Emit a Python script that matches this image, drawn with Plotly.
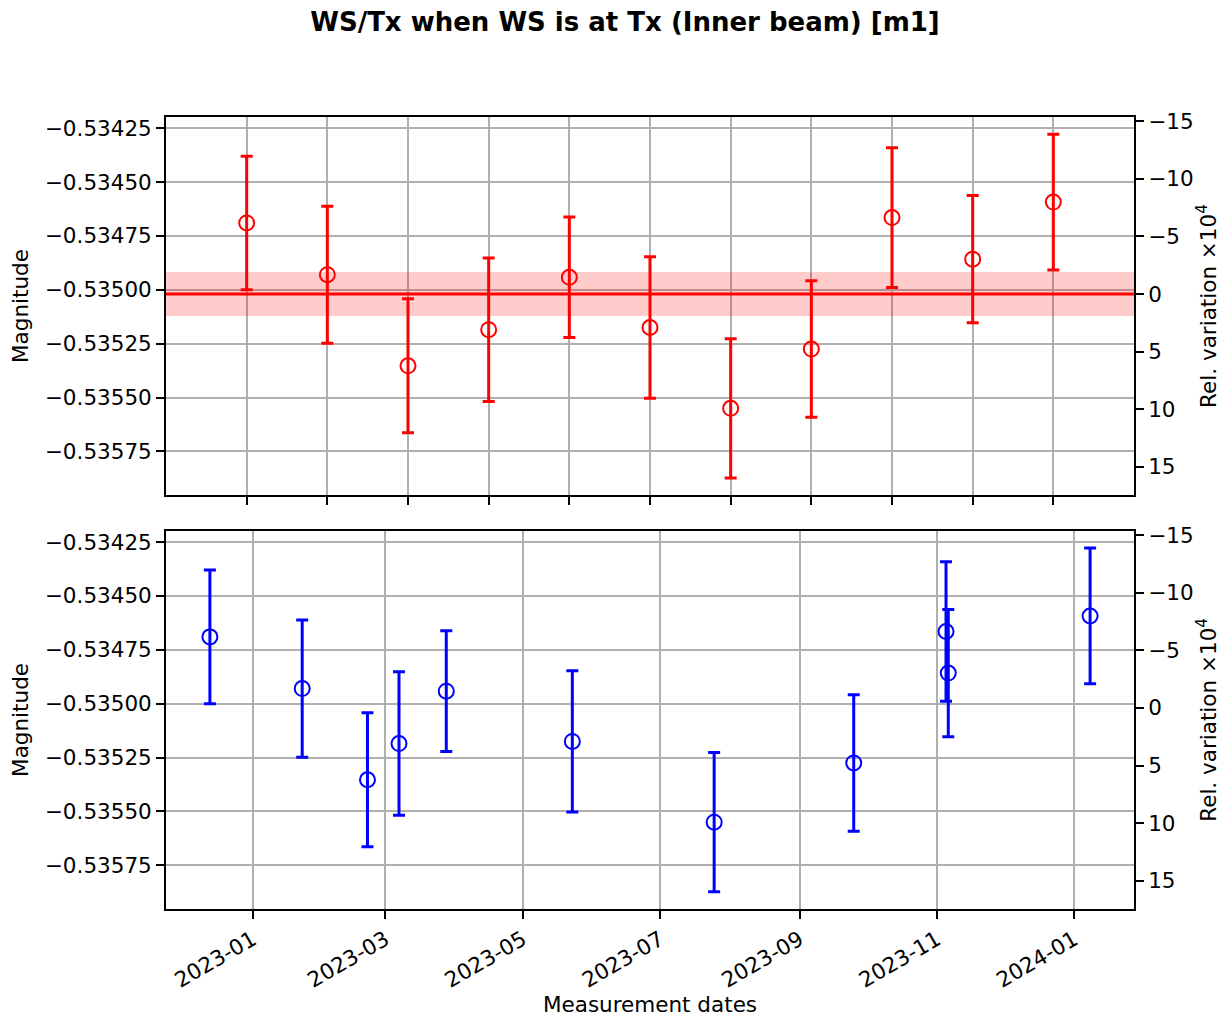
import plotly.graph_objects as go
import pandas as pd

# ---- data ----
meas_index = list(range(11))
meas_dates = ["2022-12-13", "2023-01-23", "2023-02-21", "2023-03-07", "2023-03-28",
              "2023-05-23", "2023-07-25", "2023-09-25", "2023-11-05", "2023-11-06",
              "2024-01-08"]
magnitude = [-0.534690, -0.534930, -0.535353, -0.535185, -0.534942, -0.535175,
             -0.535550, -0.535275, -0.534665, -0.534858, -0.534593]
mag_err = [0.000310, 0.000318, 0.000311, 0.000333, 0.000280, 0.000328,
           0.000323, 0.000317, 0.000324, 0.000295, 0.000315]
band_halfwidth = 0.000102
left_ticks = [-0.53425, -0.53450, -0.53475, -0.53500, -0.53525, -0.53550, -0.53575]
right_ticks = [-15, -10, -5, 0, 5, 10, 15]

mean_mag = sum(magnitude) / len(magnitude)
rel_var = [(m / mean_mag - 1) * 1e4 for m in magnitude]

lo = min(m - e for m, e in zip(magnitude, mag_err))
hi = max(m + e for m, e in zip(magnitude, mag_err))
pad = 0.05 * (hi - lo)
yr = [lo - pad, hi + pad]
rel_r = [(yr[0] / mean_mag - 1) * 1e4, (yr[1] / mean_mag - 1) * 1e4]

FONT = "DejaVu Sans"
TICK = 21.5
GRID = "#b0b0b0"

fig = go.Figure()

err_common = dict(type="data", visible=True, thickness=3, width=6)

# mean band and mean line on top panel (drawn as traces so they sit above the grid)
fig.add_trace(go.Scatter(
    x=[-1, 11, 11, -1, -1],
    y=[mean_mag - band_halfwidth, mean_mag - band_halfwidth,
       mean_mag + band_halfwidth, mean_mag + band_halfwidth, mean_mag - band_halfwidth],
    mode="lines", fill="toself", fillcolor="rgba(255,0,0,0.2)", line=dict(width=0),
    xaxis="x", yaxis="y", showlegend=False, hoverinfo="skip"))
fig.add_trace(go.Scatter(
    x=[-1, 11], y=[mean_mag, mean_mag], mode="lines",
    line=dict(color="#ff0000", width=3.2),
    xaxis="x", yaxis="y", showlegend=False, hoverinfo="skip"))

fig.add_trace(go.Scatter(
    x=meas_index, y=magnitude, mode="markers",
    marker=dict(symbol="circle-open", size=15, color="red", line=dict(width=2, color="red")),
    error_y=dict(array=mag_err, color="red", **err_common),
    xaxis="x", yaxis="y", showlegend=False))
fig.add_trace(go.Scatter(
    x=meas_index, y=rel_var, mode="markers", marker=dict(opacity=0),
    xaxis="x", yaxis="y2", showlegend=False, hoverinfo="skip"))

fig.add_trace(go.Scatter(
    x=pd.to_datetime(meas_dates), y=magnitude, mode="markers",
    marker=dict(symbol="circle-open", size=15, color="blue", line=dict(width=2, color="blue")),
    error_y=dict(array=mag_err, color="blue", **err_common),
    xaxis="x2", yaxis="y3", showlegend=False))
fig.add_trace(go.Scatter(
    x=pd.to_datetime(meas_dates), y=rel_var, mode="markers", marker=dict(opacity=0),
    xaxis="x2", yaxis="y4", showlegend=False, hoverinfo="skip"))

# page body adds an 8px offset; size the figure to fit the 1232x1024 window
W, H = 1224, 1016
L, T = 155, 109
PW, PH = 971, 796
R, B = W - L - PW, H - T - PH
top_dom = [(913 - 497) / PH, 1]
bot_dom = [0, (913 - 533) / PH]

axis_common = dict(showline=True, linecolor="black", linewidth=1.8, ticks="outside",
                   ticklen=8, tickwidth=1.7, tickcolor="black", showgrid=True,
                   gridcolor=GRID, gridwidth=1.5, zeroline=False,
                   tickfont=dict(family=FONT, size=TICK, color="black"))
axis_nogrid = {k: v for k, v in axis_common.items() if k != "showgrid"}

right_title = dict(text="Rel. variation ×10<sup>4</sup>", standoff=8,
                   font=dict(family=FONT, size=TICK))

fig.update_layout(
    width=W, height=H,
    margin=dict(l=L, r=R, t=T, b=B),
    plot_bgcolor="white", paper_bgcolor="white",
    font=dict(family=FONT, size=TICK, color="black"),
    title=dict(text="<b>WS/Tx when WS is at Tx (Inner beam) [m1]</b>",
               x=617 / W, xanchor="center", y=1 - 5 / H, yanchor="top", pad=dict(t=0),
               font=dict(family=FONT, size=26, color="black")),
    xaxis=dict(domain=[0, 1], anchor="y", range=[-1, 11], tickvals=meas_index,
               showticklabels=False, mirror=True, **axis_common),
    yaxis=dict(domain=top_dom, anchor="x", range=yr, tickvals=left_ticks,
               tickformat=".5f",
               title=dict(text="Magnitude", standoff=10, font=dict(family=FONT, size=TICK)),
               **axis_common),
    yaxis2=dict(overlaying="y", side="right", anchor="x", range=[rel_r[0], rel_r[1]],
                tickvals=right_ticks, showgrid=False, title=right_title, **axis_nogrid),
    xaxis2=dict(domain=[0, 1], anchor="y3", type="date",
                range=["2022-11-23 12:00", "2024-01-27 12:00"],
                tick0="2023-01-01", dtick="M2", tickformat="%Y-%m", tickangle=-30,
                mirror=True,
                title=dict(text="Measurement dates", standoff=4,
                           font=dict(family=FONT, size=TICK)),
                **axis_common),
    yaxis3=dict(domain=bot_dom, anchor="x2", range=yr, tickvals=left_ticks,
                tickformat=".5f",
                title=dict(text="Magnitude", standoff=10, font=dict(family=FONT, size=TICK)),
                **axis_common),
    yaxis4=dict(overlaying="y3", side="right", anchor="x2", range=[rel_r[0], rel_r[1]],
                tickvals=right_ticks, showgrid=False, title=right_title, **axis_nogrid),
)

fig.write_html("out.html")
